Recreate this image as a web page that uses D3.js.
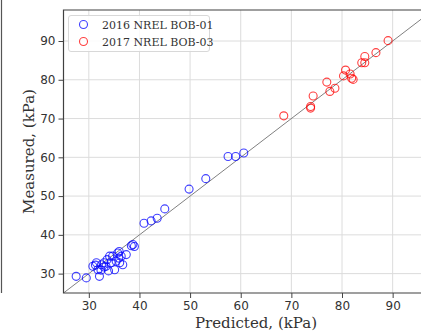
<!DOCTYPE html>
<html>
<head>
<meta charset="utf-8">
<script src="https://cdn.jsdelivr.net/npm/d3@7"></script>
<style>
  html, body { margin: 0; padding: 0; background: #fff; }
  svg { display: block; }
</style>
</head>
<body>
<svg id="chart" width="421" height="332"></svg>
<script>
// Predicted vs measured pressure (kPa) for two test series
const seriesNames = ["2016 NREL BOB-01", "2017 NREL BOB-03"];

const bob01Predicted = [27.5, 29.5, 30.8, 31.3, 31.5, 31.8, 32.1, 32.4, 32.5, 33.0, 33.0, 33.4, 33.6, 33.9, 34.1, 34.4, 34.7, 35.1, 35.4, 35.7, 35.9, 36.0, 36.1, 36.4, 36.7, 37.4, 38.4, 38.7, 39.0, 40.9, 42.3, 43.5, 45.0, 49.8, 53.1, 57.5, 59.0, 60.6];
const bob01Measured  = [29.3, 28.9, 31.9, 32.2, 32.8, 31.0, 29.3, 30.9, 32.3, 32.8, 31.7, 31.9, 33.6, 30.7, 34.5, 32.8, 34.5, 31.0, 33.2, 35.3, 34.0, 35.7, 32.8, 34.5, 32.3, 34.9, 37.2, 37.5, 37.0, 43.0, 43.6, 44.3, 46.7, 51.8, 54.5, 60.2, 60.2, 61.1];

const bob03Predicted = [68.5, 73.8, 73.8, 74.3, 77.0, 77.6, 78.6, 80.3, 80.7, 81.6, 81.9, 82.2, 83.9, 84.5, 84.5, 86.7, 89.1];
const bob03Measured  = [70.7, 72.7, 73.1, 75.8, 79.4, 77.0, 77.8, 81.0, 82.5, 81.5, 80.4, 80.1, 84.4, 86.0, 84.4, 87.0, 90.1];

const xTicks = [30, 40, 50, 60, 70, 80, 90];
const yTicks = [30, 40, 50, 60, 70, 80, 90];
const xDomain = [25, 95.6];
const yDomain = [25, 98];

const svg = d3.select("#chart");
const m = { left: 63.5, top: 10, right: 421, bottom: 293 };

const x = d3.scaleLinear().domain(xDomain).range([m.left, m.right]);
const y = d3.scaleLinear().domain(yDomain).range([m.bottom, m.top]);

// thin rule along the left edge of the page
svg.append("line")
  .attr("x1", 1.5).attr("x2", 1.5).attr("y1", 0).attr("y2", 293)
  .attr("stroke", "#555").attr("stroke-width", 1.2);

const clip = svg.append("defs").append("clipPath").attr("id", "plotclip")
  .append("rect").attr("x", m.left).attr("y", m.top)
  .attr("width", m.right - m.left).attr("height", m.bottom - m.top);

// grid
const grid = svg.append("g").attr("stroke", "#dcdcdc").attr("stroke-width", 1);
grid.selectAll("line.vx").data(xTicks).join("line")
  .attr("x1", d => x(d)).attr("x2", d => x(d))
  .attr("y1", m.top).attr("y2", m.bottom);
grid.selectAll("line.hy").data(yTicks).join("line")
  .attr("x1", m.left).attr("x2", m.right)
  .attr("y1", d => y(d)).attr("y2", d => y(d));

// 1:1 reference line
const plot = svg.append("g").attr("clip-path", "url(#plotclip)");
plot.append("line")
  .attr("x1", x(20)).attr("y1", y(20))
  .attr("x2", x(110)).attr("y2", y(110))
  .attr("stroke", "#808080").attr("stroke-width", 1);

// markers
function drawSeries(px, py, color) {
  plot.append("g").selectAll("circle")
    .data(px.map((v, i) => [v, py[i]]))
    .join("circle")
    .attr("cx", d => x(d[0])).attr("cy", d => y(d[1]))
    .attr("r", 4)
    .attr("fill", "none")
    .attr("stroke", color)
    .attr("stroke-opacity", 0.75)
    .attr("stroke-width", 1.1);
}
drawSeries(bob01Predicted, bob01Measured, "#0000ff");
drawSeries(bob03Predicted, bob03Measured, "#ff0000");

// axes
const xAxis = d3.axisBottom(x).tickValues(xTicks).tickSize(5).tickPadding(3);
const yAxis = d3.axisLeft(y).tickValues(yTicks).tickSize(5).tickPadding(3);

const gx = svg.append("g").attr("transform", `translate(0,${m.bottom})`).call(xAxis);
const gy = svg.append("g").attr("transform", `translate(${m.left},0)`).call(yAxis);
[gx, gy].forEach(g => {
  g.select(".domain").remove();
  g.selectAll(".tick line").attr("stroke", "#444");
  g.selectAll(".tick text")
    .attr("font-family", "DejaVu Sans, sans-serif")
    .attr("font-size", 12)
    .attr("fill", "#333");
});

// frame: left, top, bottom (right side runs off the page)
const frame = svg.append("g").attr("stroke", "#404040").attr("stroke-width", 1.2).attr("fill", "none");
frame.append("path")
  .attr("d", `M${m.right},${m.top}H${m.left}V${m.bottom}H${m.right}`);

// axis titles
svg.append("text")
  .attr("x", 256).attr("y", 328)
  .attr("text-anchor", "middle")
  .attr("font-family", "DejaVu Serif, serif")
  .attr("font-size", 15)
  .attr("fill", "#333")
  .text("Predicted, (kPa)");

svg.append("text")
  .attr("transform", `translate(34,${(m.top + m.bottom) / 2}) rotate(-90)`)
  .attr("text-anchor", "middle")
  .attr("font-family", "DejaVu Serif, serif")
  .attr("font-size", 15)
  .attr("fill", "#333")
  .text("Measured, (kPa)");

// legend
const lg = svg.append("g");
lg.append("rect")
  .attr("x", 68.5).attr("y", 15.5).attr("width", 141).attr("height", 36)
  .attr("rx", 2.5)
  .attr("fill", "#fff").attr("fill-opacity", 0.85)
  .attr("stroke", "#d8d8d8").attr("stroke-width", 1);
const colors = ["#0000ff", "#ff0000"];
seriesNames.forEach((name, i) => {
  const cy = 24.5 + i * 17;
  lg.append("circle")
    .attr("cx", 83.5).attr("cy", cy).attr("r", 4)
    .attr("fill", "none").attr("stroke", colors[i])
    .attr("stroke-opacity", 0.75).attr("stroke-width", 1.1);
  lg.append("text")
    .attr("x", 102).attr("y", cy + 4)
    .attr("font-family", "DejaVu Serif, serif")
    .attr("font-size", 11)
    .attr("fill", "#333")
    .text(name);
});
</script>
</body>
</html>
